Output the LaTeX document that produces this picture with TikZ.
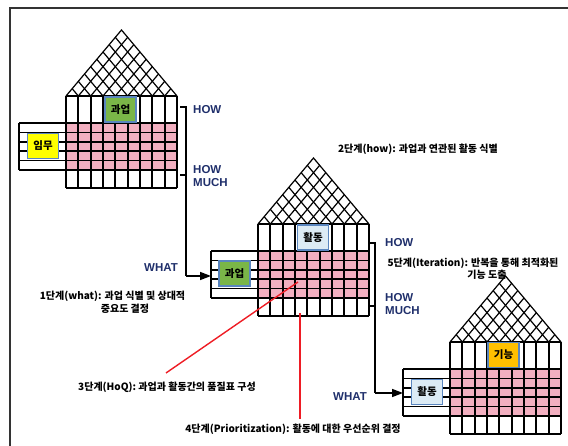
\documentclass[tikz,border=0pt]{standalone}
\usepackage{fontspec}
\setmainfont{Noto Sans CJK KR}
\newfontfamily\krb{Noto Sans CJK KR Black}
\newfontfamily\lsans{Liberation Sans}
\usetikzlibrary{arrows.meta}
\definecolor{pinkc}{HTML}{F2AFC0}
\definecolor{greenc}{HTML}{7AB648}
\definecolor{yellowc}{HTML}{FFFF00}
\definecolor{orangec}{HTML}{FFC000}
\definecolor{lbluec}{HTML}{DCEBF5}
\definecolor{boxborder}{HTML}{5A86BF}
\definecolor{navyc}{HTML}{1F2F6B}
\definecolor{redc}{HTML}{EE1C24}
\tikzset{
  gridline/.style={line width=1.7pt, black},
  roofline/.style={line width=1.2pt, black},
  itembox/.style={draw=boxborder, line width=1.2pt, minimum width=31pt, minimum height=25pt, inner sep=0pt, font=\krb\fontsize{10.5}{12}\selectfont},
  howlabel/.style={text=navyc, inner sep=0pt, font=\lsans\bfseries\fontsize{11.5}{13}\selectfont},
  steplabel/.style={inner sep=0pt, font=\krb\fontsize{10}{12}\selectfont},
  bracketline/.style={line width=1.6pt, black},
  redline/.style={line width=1.4pt, redc},
}
\newcommand\hoqhouse[2]{%
\begin{scope}[shift={(#1,#2)}]
  \fill[pinkc] (0,27) rectangle (111,74);
  \begin{scope}
    \clip (0,0) -- (55.5,-66) -- (111,0) -- cycle;
    \foreach \i in {1,...,8} {
      \draw[roofline] (\i*12.333,0) -- ++(111,-132);
      \draw[roofline] (\i*12.333,0) -- ++(-111,-132);
    }
  \end{scope}
  \draw[roofline] (0,0) -- (55.5,-66) -- (111,0);
  \foreach \i in {0,...,9} \draw[gridline] (\i*12.333,0) -- (\i*12.333,92);
  \foreach \yy in {0,27,36.4,45.8,55.2,64.6,74,92} \draw[gridline] (0,\yy) -- (111,\yy);
  \foreach \yy in {27,36.4,45.8,55.2,64.6,74} \draw[gridline] (-47,\yy) -- (0,\yy);
  \draw[gridline] (-47,27) -- (-47,74);
\end{scope}}
\begin{document}
\begin{tikzpicture}[x=1pt, y=-1pt]
\useasboundingbox (0,0) rectangle (568,446);
% frame
\draw[line width=2pt, black!80] (568,8) -- (10,8) -- (10,446);
% houses
\hoqhouse{66}{96}
\hoqhouse{258}{224}
\hoqhouse{450}{342}
% item boxes
\node[itembox, fill=greenc] (t1) at (120.5,109.5) {과업};
\node[itembox, fill=yellowc] (w1) at (43,146) {임무};
\node[itembox, fill=lbluec] (t2) at (313,237.5) {활동};
\node[itembox, fill=greenc] (w2) at (234.5,273.5) {과업};
\node[itembox, fill=orangec] (t3) at (503.5,355) {기능};
\node[itembox, fill=lbluec] (w3) at (427,392) {활동};
% left-room entry points
\coordinate (in2) at (211,276);
\coordinate (in3) at (403,393);
% bracket 1
\coordinate (b1a) at (180,107);
\coordinate (b1b) at (186,107);
\coordinate (b1c) at (180,175);
\coordinate (b1d) at (186,175);
\coordinate (b1e) at (186,276);
\draw[bracketline] (b1a) -- (b1b) -- (b1e);
\draw[bracketline] (b1c) -- (b1d);
\draw[bracketline, -{Triangle[length=11pt,width=8pt]}] (b1e) -- (in2);
% bracket 2
\coordinate (b2a) at (370,243);
\coordinate (b2b) at (375,243);
\coordinate (b2c) at (370,306);
\coordinate (b2d) at (375,306);
\coordinate (b2e) at (375,393);
\draw[bracketline] (b2a) -- (b2b) -- (b2e);
\draw[bracketline] (b2c) -- (b2d);
\draw[bracketline, -{Triangle[length=11pt,width=8pt]}] (b2e) -- (in3);
% HOW labels
\node[howlabel, anchor=west] (how1) at (193,110) {HOW};
\node[howlabel, anchor=west, align=left] (hm1) at (193,176.5) {HOW\\MUCH};
\node[howlabel, anchor=east] (what2) at (178,268) {WHAT};
\node[howlabel, anchor=west] (how2) at (385,242.5) {HOW};
\node[howlabel, anchor=west, align=left] (hm2) at (385,304) {HOW\\MUCH};
\node[howlabel, anchor=west] (what3) at (333,397) {WHAT};
% step labels
\node[steplabel] (s1a) at (112.5,296) {1단계(what): 과업 식별 및 상대적};
\node[steplabel] (s1b) at (125,309) {중요도 결정};
\node[steplabel] (s2) at (418,149) {2단계(how): 과업과 연관된 활동 식별};
\node[steplabel] (s3) at (167,387) {3단계(HoQ): 과업과 활동간의 품질표 구성};
\node[steplabel] (s4) at (293,429) {4단계(Prioritization): 활동에 대한 우선순위 결정};
\node[steplabel] (s5a) at (473,263) {5단계(Iteration): 반복을 통해 최적화된};
\node[steplabel] (s5b) at (487,275) {기능 도출};
% red pointers
\coordinate (p3) at (298,282);
\coordinate (p4) at (300,313);
\coordinate (s3top) at (166,373);
\coordinate (s4top) at (300,419);
\draw[redline] (s3top) -- (p3);
\draw[redline] (s4top) -- (p4);
\end{tikzpicture}
\end{document}
